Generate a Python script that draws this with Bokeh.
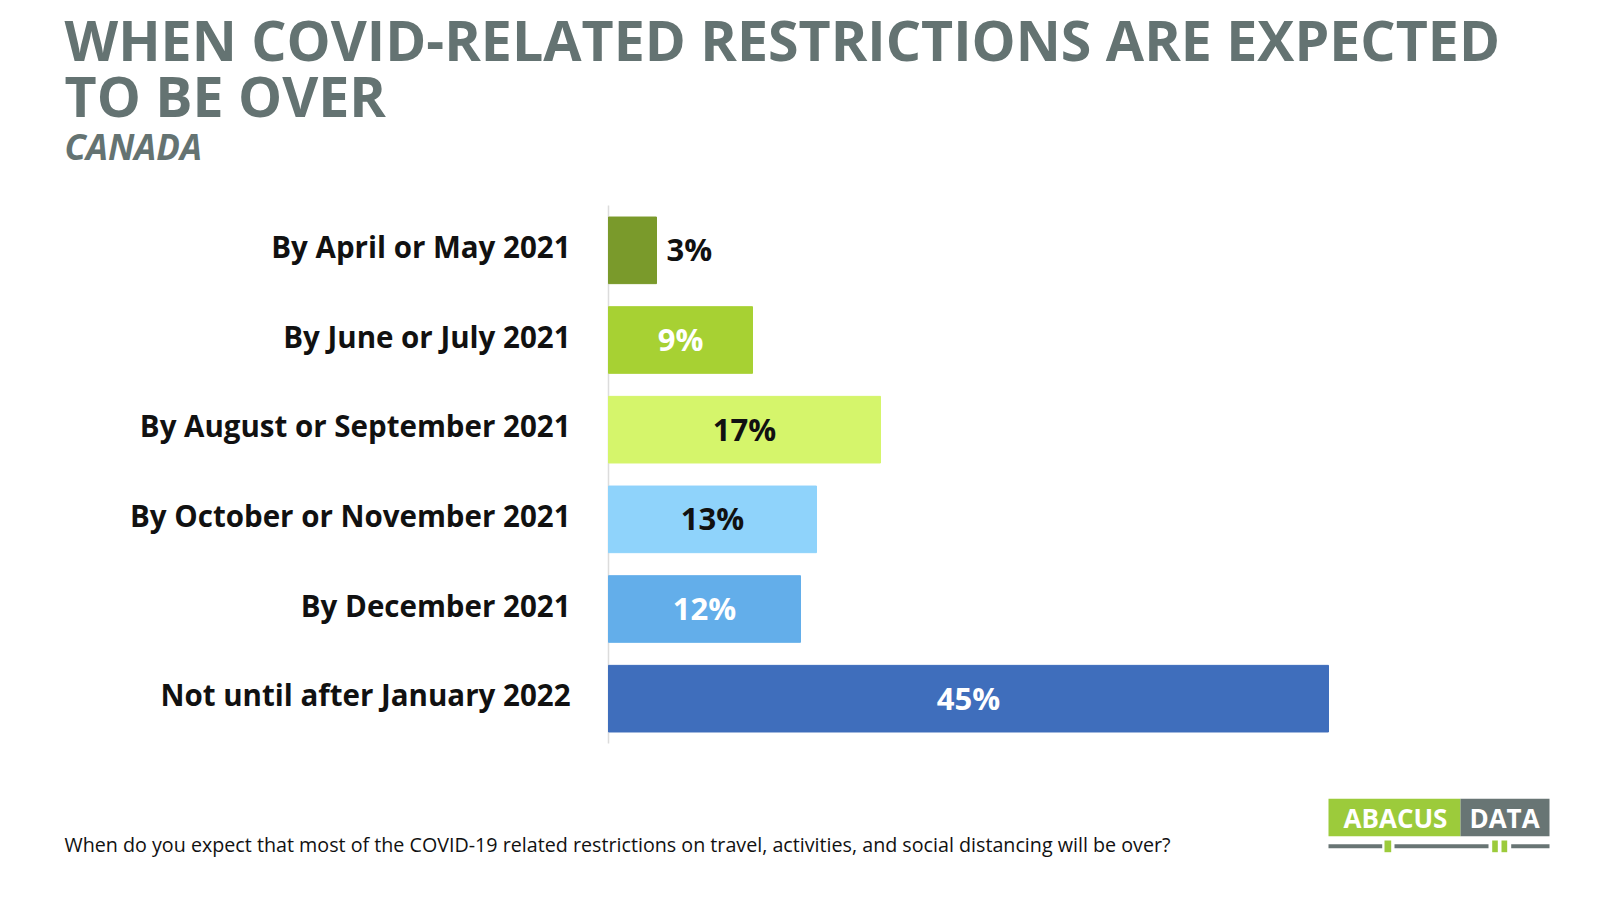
from bokeh.plotting import figure
from bokeh.models import ColumnDataSource, Range1d, Label, BoxAnnotation
from bokeh.core.properties import value
from bokeh.embed import file_html
from bokeh.resources import INLINE

categories = ["By April or May 2021", "By June or July 2021", "By August or September 2021",
              "By October or November 2021", "By December 2021", "Not until after January 2022"]
values = [3, 9, 17, 13, 12, 45]
bar_colors = ["#7a9a2b", "#a7d133", "#d5f56b", "#8fd3fb", "#63aeea", "#3f6ebc"]
label_colors = ["#111111", "#ffffff", "#111111", "#111111", "#ffffff", "#ffffff"]
value_labels = [f"{v}%" for v in values]
title_lines = ["WHEN COVID-RELATED RESTRICTIONS ARE EXPECTED", "TO BE OVER"]
subtitle = "CANADA"
footnote = "When do you expect that most of the COVID-19 related restrictions on travel, activities, and social distancing will be over?"

FONT = "Open Sans"
TITLE_COLOR = "#647372"
LOGO_GREEN = "#9ccb3b"
LOGO_GREY = "#687574"

W, H = 1584, 884
# layout: value 0 at canvas x=608, 16 px per percent; rows 89.67 px, first row top at canvas y=205
PX_PER = 16.0
X0 = 608.0
ROW = 89.67
TOP = 205.0
n = len(categories)
x_range = Range1d(-X0 / PX_PER, (W - X0) / PX_PER)
y_range = Range1d(-0.5 + (H - TOP) / ROW, -0.5 - TOP / ROW)

p = figure(width=W, height=H, output_backend="svg", toolbar_location=None,
           x_range=x_range, y_range=y_range, min_border=0)
p.outline_line_color = None
p.xgrid.visible = False
p.ygrid.visible = False
p.xaxis.visible = False
p.yaxis.visible = False

idx = list(range(n))
src = ColumnDataSource(dict(y=idx, cat=categories, val=values, color=bar_colors,
                            lab=value_labels, lcol=label_colors))

# axis line
p.segment(x0=[0], y0=[-0.5], x1=[0], y1=[n - 0.5], line_color="#dcdcdc", line_width=1.5)

p.hbar(y="y", right="val", left=0, height=0.743, color="color", source=src)

# category labels
p.text(x=0, y="y", text="cat", source=src, text_align="right", text_baseline="middle",
       x_offset=-38, y_offset=-4, text_font=value(FONT), text_font_size="29.5px",
       text_font_style="bold", text_color="#111111")

inside = [i for i, v in enumerate(values) if v >= 5]
outside = [i for i, v in enumerate(values) if v < 5]
src_in = ColumnDataSource(dict(y=inside, x=[values[i] / 2 for i in inside],
                               lab=[value_labels[i] for i in inside], lcol=[label_colors[i] for i in inside]))
src_out = ColumnDataSource(dict(y=outside, x=[values[i] for i in outside],
                                lab=[value_labels[i] for i in outside], lcol=[label_colors[i] for i in outside]))
p.text(x="x", y="y", text="lab", text_color="lcol", source=src_in, text_align="center",
       text_baseline="middle", text_font=value(FONT), text_font_size="31px", text_font_style="bold",
       y_offset=-1)
p.text(x="x", y="y", text="lab", text_color="lcol", source=src_out, text_align="left",
       text_baseline="middle", text_font=value(FONT), text_font_size="31px", text_font_style="bold",
       x_offset=10, y_offset=-1)

# titles (screen units: from canvas bottom-left)
for txt, y, size, style in [(title_lines[0], H - 38.5, "55.5px", "bold"),
                            (title_lines[1], H - 94.5, "55.5px", "bold"),
                            (subtitle, H - 145.5, "35px", "bold italic")]:
    p.add_layout(Label(x=64, y=y, x_units="screen", y_units="screen", text=txt,
                       text_font=FONT, text_font_size=size, text_font_style=style,
                       text_color=TITLE_COLOR, text_baseline="alphabetic"))

p.add_layout(Label(x=64, y=H - 844, x_units="screen", y_units="screen", text=footnote,
                   text_font=FONT, text_font_size="19.7px", text_color="#111111", text_baseline="alphabetic"))

# logo
def box(l, r, b, t, c):
    p.add_layout(BoxAnnotation(left=l, right=r, bottom=b, top=t, left_units="screen", right_units="screen",
                               bottom_units="screen", top_units="screen", fill_color=c, fill_alpha=1,
                               line_color=None, level="annotation"))

box(1328, 1460, H - 835.7, H - 798.3, LOGO_GREEN)
box(1460, 1549, H - 835.7, H - 798.3, LOGO_GREY)
for l, r in [(1328, 1381.7), (1394, 1488), (1510.7, 1549)]:
    box(l, r, H - 847.7, H - 843.7, LOGO_GREY)
for l, r in [(1384, 1390.7), (1491.7, 1497.3), (1501, 1506.7)]:
    box(l, r, H - 851.7, H - 840, LOGO_GREEN)
for txt, cx in [("ABACUS", 1395), ("DATA", 1504)]:
    p.add_layout(Label(x=cx, y=H - 817, x_units="screen", y_units="screen", text=txt, text_align="center",
                       text_baseline="middle", text_font=FONT, text_font_size="26px", text_font_style="bold",
                       text_color="#ffffff", level="overlay"))

open("out.html", "w").write(file_html(p, INLINE))
